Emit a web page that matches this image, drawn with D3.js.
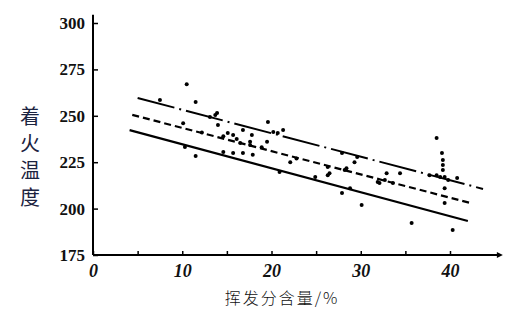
<!DOCTYPE html>
<html>
<head>
<meta charset="utf-8">
<script src="https://cdn.jsdelivr.net/npm/d3@7"></script>
<style>
  body { margin: 0; background: #fff; }
  svg { display: block; }
</style>
</head>
<body>
<svg id="chart"></svg>
<script>
// volatile content (%) vs ignition temperature
const xTicks = [0, 5, 10, 15, 20, 25, 30, 35, 40];
const xLabels = [0, 10, 20, 30, 40];
const yTicks = [175, 200, 225, 250, 275, 300];

const pointsX = [7.5, 10.5, 11.5, 10.1, 11.5, 10.3, 13.9, 13.1, 13.7, 14.0,
    14.6, 15.1, 15.7, 16.1, 16.5, 16.8, 17.8, 17.6, 14.6, 15.7,
    16.8, 17.9, 19.6, 18.9, 19.5, 20.2, 20.7, 22.1, 22.8, 24.9,
    26.3, 26.3, 27.9, 29.3, 28.2, 26.5, 27.9, 30.1, 32.1, 32.9,
    32.7, 28.8, 29.6, 28.4, 31.9, 33.6, 34.4, 38.5, 39.1, 39.2,
    39.2, 39.2, 37.7, 38.5, 38.9, 39.4, 39.8, 40.8, 39.4, 39.4,
    35.7, 40.3, 20.9, 17.6, 12.2, 21.3];
const pointsY = [258.5, 267, 257.4, 246, 228.3, 233.2, 251.5, 249.4, 250.4, 245,
    239, 240.7, 239.7, 237.5, 235.3, 242.3, 239.7, 234.3, 230.5, 230,
    230, 229, 246.7, 233, 236, 241.3, 240.7, 225, 227, 217,
    218, 222.4, 230, 225, 220.8, 219, 208.4, 202, 213.8, 219,
    215.4, 211, 227.8, 221.8, 214.3, 213.8, 219, 238, 230, 226.2,
    223.5, 220.8, 218, 218, 217, 217, 215.4, 216.5, 211, 203,
    192.2, 188.5, 219.7, 236, 241, 242.3];

// fitted lines: lower (solid), middle (dashed), upper (dash-dot)
const lowerLine = [[4.1, 242.3], [42.0, 193.3]];
const middleLine = [[4.4, 250.5], [42.3, 203.0]];
const upperLine = [[5.0, 259.6], [43.7, 210.6]];

const width = 509, height = 317;
const svg = d3.select("#chart").attr("width", width).attr("height", height);

const x = d3.scaleLinear().domain([0, 40]).range([93, 450]);
const y = d3.scaleLinear().domain([175, 300]).range([255, 23]);

const axisFont = "'Liberation Serif', 'DejaVu Serif', serif";

// X axis
const xAxis = svg.append("g")
    .attr("transform", `translate(0,${y(175)})`)
    .call(d3.axisBottom(x)
        .tickValues(xTicks)
        .tickSizeInner(-4)
        .tickSizeOuter(0)
        .tickPadding(9)
        .tickFormat(d => xLabels.includes(d) ? d : ""));
xAxis.select(".domain").remove();
xAxis.selectAll("line").attr("stroke", "#000").attr("stroke-width", 1.5);
xAxis.selectAll("text")
    .attr("font-family", axisFont)
    .attr("font-weight", "bold")
    .attr("font-style", "italic")
    .attr("font-size", "18px")
    .attr("fill", "#111");

svg.append("line")
    .attr("x1", x(0)).attr("x2", x(45.7))
    .attr("y1", y(175)).attr("y2", y(175))
    .attr("stroke", "#000").attr("stroke-width", 2);
svg.append("path")
    .attr("d", `M${x(45.7) + 2},${y(175)} l-6,-3 l0,6 z`)
    .attr("fill", "#000");

// Y axis
const yAxis = svg.append("g")
    .attr("transform", `translate(${x(0)},0)`)
    .call(d3.axisLeft(y)
        .tickValues(yTicks)
        .tickSizeInner(-5)
        .tickSizeOuter(0)
        .tickPadding(8));
yAxis.select(".domain").remove();
yAxis.selectAll("line").attr("stroke", "#000").attr("stroke-width", 1.5);
yAxis.selectAll("text")
    .attr("font-family", axisFont)
    .attr("font-weight", "bold")
    .attr("font-size", "17px")
    .attr("fill", "#111");

svg.append("line")
    .attr("x1", x(0)).attr("x2", x(0))
    .attr("y1", y(175)).attr("y2", y(304.5))
    .attr("stroke", "#000").attr("stroke-width", 2);

// Fitted lines
const line = d3.line().x(d => x(d[0])).y(d => y(d[1]));

svg.append("path")
    .datum(lowerLine)
    .attr("d", line)
    .attr("fill", "none")
    .attr("stroke", "#000")
    .attr("stroke-width", 2.2);

svg.append("path")
    .datum(middleLine)
    .attr("d", line)
    .attr("fill", "none")
    .attr("stroke", "#000")
    .attr("stroke-width", 2.2)
    .attr("stroke-dasharray", "7,4");

svg.append("path")
    .datum(upperLine)
    .attr("d", line)
    .attr("fill", "none")
    .attr("stroke", "#000")
    .attr("stroke-width", 2)
    .attr("stroke-dasharray", "38,5,2,5");

// Scatter points
svg.selectAll(".dot")
    .data(pointsX.map((v, i) => [v, pointsY[i]]))
    .enter().append("circle")
    .attr("class", "dot")
    .attr("cx", d => x(d[0]))
    .attr("cy", d => y(d[1]))
    .attr("r", 2)
    .attr("fill", "#000");

// Y axis title, one character per row
const yTitle = "着火温度".split("");
svg.selectAll(".ytitle")
    .data(yTitle)
    .enter().append("text")
    .attr("class", "ytitle")
    .attr("x", 30)
    .attr("y", (d, i) => 117 + i * 27)
    .attr("dy", "0.35em")
    .attr("text-anchor", "middle")
    .attr("font-family", "'Noto Sans CJK SC', sans-serif")
    .attr("font-size", "20px")
    .attr("fill", "#1c2340")
    .text(d => d);

// X axis title
svg.append("text")
    .attr("x", 282)
    .attr("y", 298)
    .attr("dy", "0.35em")
    .attr("text-anchor", "middle")
    .attr("font-family", "'Noto Sans CJK SC', sans-serif")
    .attr("font-size", "16px")
    .attr("font-weight", 300)
    .attr("letter-spacing", "2px")
    .attr("fill", "#111")
    .text("挥发分含量/%");
</script>
</body>
</html>
